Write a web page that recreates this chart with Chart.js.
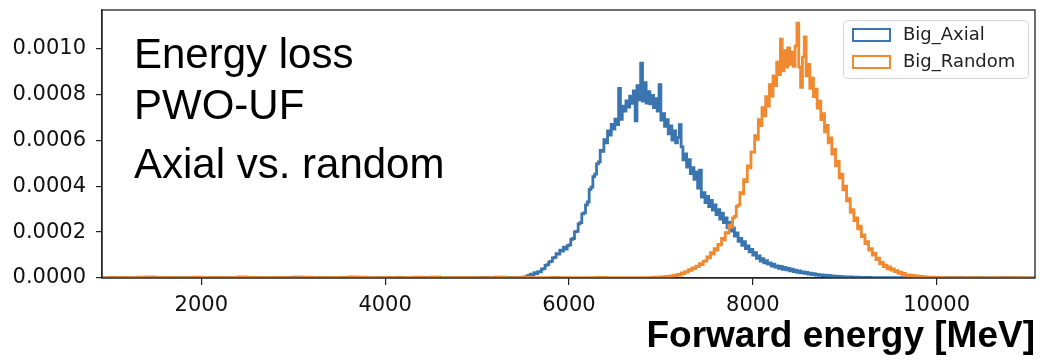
<!DOCTYPE html>
<html lang="en">
<head>
  <meta charset="UTF-8" />
  <title>Energy loss - PWO-UF</title>
  <style>
    * { margin: 0; padding: 0; box-sizing: border-box; }
    body { background: #fff; width: 1040px; height: 360px; overflow: hidden; }
    .wrap { position: relative; width: 1040px; height: 360px; }
  </style>
</head>
<body>
  <div class="wrap"><canvas id="chartEnergy" width="1040" height="360"></canvas></div>

  <script src="https://cdn.jsdelivr.net/npm/chart.js"></script>
  <script>
    // histogram heights in units of 1e-6 per MeV
    const UNIT = 1e-6;
    const fineWidth = 20;
    const coarseWidth = 100;

    // Big_Axial
    const axialLowStart = 900;
    const axialLow = [
      2, 0, 3, 1, 0, 2, 4, 1, 0, 2, 1, 3, 0, 2, 1, 0, 3, 2, 1, 0,
      2, 1, 4, 0, 1, 2, 0, 3, 1, 2, 0, 2, 1, 3, 0, 1, 2, 4, 1, 0,
      2, 1, 3, 2, 4, 3
    ];
    const axialStart = 5500;
    const axialValues = [
      2, 4, 3, 9, 11, 17, 14, 23, 19, 28,
      27, 39, 41, 55, 58, 70, 72, 88, 90, 106,
      104, 121, 117, 134, 126, 141, 144, 168, 172, 201,
      203, 236, 241, 279, 284, 318, 331, 386, 396, 441,
      452, 497, 506, 556, 551, 602, 589, 640, 622, 669,
      648, 692, 668, 826, 691, 748, 727, 771, 744, 792,
      761, 815, 684, 838, 776, 936, 770, 851, 762, 812,
      758, 795, 742, 781, 727, 842, 688, 716, 660, 690,
      628, 662, 601, 640, 588, 612, 668, 571, 515, 540,
      483, 515, 455, 480, 430, 462, 391, 470, 352, 372,
      328, 355, 311, 338, 296, 318, 276, 298, 256, 282,
      241, 262, 220, 242, 204, 218, 182, 196, 160, 172,
      142, 158, 128, 140, 114, 125, 100, 110, 86, 96,
      74, 84, 66, 76, 60, 66, 52, 60, 47, 53,
      42, 50, 38, 46, 36, 42, 31, 38, 28, 34,
      25, 31, 22, 27, 20, 24, 17, 21, 15, 19,
      13, 16, 11, 14, 10, 12, 8, 11, 7, 9,
      6, 8, 5, 7, 4, 6, 4, 5, 3, 5,
      3, 4, 2, 4, 2, 3, 2, 3, 1, 3,
      1, 2, 1, 2, 1, 2, 0, 2, 1, 1
    ];
    const axialHighStart = 9500;
    const axialHigh = [1, 2, 1, 0, 1, 1, 0, 2, 1, 0, 1, 0, 0, 1, 0, 0];

    // Big_Random
    const randomLowStart = 900;
    const randomLow = [
      0, 2, 1, 3, 0, 4, 2, 1, 3, 2, 1, 4, 2, 3, 1, 2, 5, 3, 1, 2,
      3, 1, 2, 4, 2, 1, 3, 2, 5, 4, 2, 1, 3, 2, 1, 4, 2, 3, 1, 2,
      3, 2, 1, 2, 3, 1, 2, 4, 1, 2, 3, 1, 2, 1, 2, 3, 1, 2, 1, 2
    ];
    const randomStart = 6900;
    const randomValues = [
      1, 3, 2, 4, 2, 5, 3, 6, 4, 7,
      5, 9, 7, 12, 10, 16, 13, 22, 19, 28,
      26, 36, 33, 44, 41, 52, 50, 62, 58, 72,
      74, 92, 88, 110, 104, 128, 122, 146, 144, 172,
      166, 198, 196, 230, 222, 262, 268, 312, 318, 372,
      366, 428, 420, 488, 480, 548, 548, 620, 604, 690,
      664, 742, 706, 790, 748, 842, 792, 880, 838, 940,
      886, 1040, 902, 990, 918, 1002, 930, 984, 922, 1010,
      1110, 918, 830, 962, 1050, 880, 930, 826, 870, 790,
      822, 740, 770, 690, 716, 636, 664, 588, 610, 540,
      560, 488, 508, 436, 452, 384, 400, 336, 346, 286,
      298, 250, 262, 214, 226, 180, 188, 150, 158, 122,
      128, 100, 108, 80, 86, 62, 68, 50, 56, 40,
      48, 34, 40, 28, 32, 20, 26, 16, 20, 12,
      14, 9, 12, 6, 10, 5, 8, 4, 7, 3,
      5, 3, 4, 2, 4, 1, 3, 2, 2, 1
    ];
    const randomHighStart = 10100;
    const randomHigh = [1, 2, 0, 1, 1, 0, 1, 0, 1, 0];

    const seriesLabels = ['Big_Axial', 'Big_Random'];
    const seriesColors = ['#3a75af', '#f0892f'];
    const xTicks = [2000, 4000, 6000, 8000, 10000];
    const yTicks = [0, 0.0002, 0.0004, 0.0006, 0.0008, 0.0010];
    const notes = ['Energy loss', 'PWO-UF', 'Axial vs. random'];
    const xTitle = 'Forward energy [MeV]';

    function bins(start, width, values) {
      return values.map((v, i) => ({ x: start + i * width, y: v * UNIT }));
    }

    function histogram(parts) {
      const pts = [];
      parts.forEach(p => pts.push(...bins(p[0], p[1], p[2])));
      const last = parts[parts.length - 1];
      pts.push({ x: last[0] + last[1] * last[2].length, y: pts[pts.length - 1].y });
      return pts;
    }

    const axialData = histogram([
      [axialLowStart, coarseWidth, axialLow],
      [axialStart, fineWidth, axialValues],
      [axialHighStart, coarseWidth, axialHigh]
    ]);
    const randomData = histogram([
      [randomLowStart, coarseWidth, randomLow],
      [randomStart, fineWidth, randomValues],
      [randomHighStart, coarseWidth, randomHigh]
    ]);

    const decor = {
      id: 'decor',
      afterDraw(chart) {
        const { ctx, chartArea: a } = chart;
        ctx.save();

        // frame
        ctx.strokeStyle = '#222';
        ctx.lineWidth = 1.3;
        ctx.strokeRect(a.left, a.top, a.right - a.left, a.bottom - a.top);

        // big annotation
        ctx.fillStyle = '#000';
        ctx.font = '42px "Liberation Sans", Arial, sans-serif';
        ctx.textBaseline = 'alphabetic';
        ctx.textAlign = 'left';
        const noteY = [68, 119, 178];
        notes.forEach((t, i) => ctx.fillText(t, 134, noteY[i]));

        // legend
        ctx.beginPath();
        ctx.roundRect(843.5, 20.5, 185, 58, 4);
        ctx.fillStyle = 'rgba(255,255,255,0.85)';
        ctx.fill();
        ctx.strokeStyle = '#d4d4d4';
        ctx.lineWidth = 1;
        ctx.stroke();

        ctx.font = '18px "DejaVu Sans", sans-serif';
        ctx.textBaseline = 'middle';
        seriesLabels.forEach((lab, i) => {
          const y = 35 + i * 27;
          ctx.strokeStyle = seriesColors[i];
          ctx.lineWidth = 2;
          ctx.strokeRect(853, y - 6, 37, 12);
          ctx.fillStyle = '#222';
          ctx.fillText(lab, 903, y);
        });

        ctx.restore();
      }
    };

    new Chart(document.getElementById('chartEnergy'), {
      type: 'line',
      data: {
        datasets: [
          {
            label: seriesLabels[0],
            data: axialData,
            borderColor: seriesColors[0],
            borderWidth: 2.8,
            pointRadius: 0,
            stepped: 'after',
            fill: false,
            order: 1
          },
          {
            label: seriesLabels[1],
            data: randomData,
            borderColor: seriesColors[1],
            borderWidth: 2.8,
            pointRadius: 0,
            stepped: 'after',
            fill: false,
            order: 0
          }
        ]
      },
      options: {
        responsive: false,
        animation: false,
        devicePixelRatio: 1,
        layout: { padding: { top: 10, right: 5, left: 0, bottom: 0 } },
        plugins: {
          legend: { display: false },
          tooltip: { enabled: false }
        },
        scales: {
          x: {
            type: 'linear',
            min: 920,
            max: 11070,
            afterBuildTicks: axis => { axis.ticks = xTicks.map(v => ({ value: v })); },
            afterFit: scale => {
              scale.height = 82;
              scale.paddingLeft = 0;
              scale.paddingRight = 0;
            },
            grid: { drawOnChartArea: false, drawTicks: true, tickLength: 7, color: '#222', lineWidth: 1.2 },
            border: { color: '#222', width: 1.3 },
            ticks: {
              color: '#111',
              padding: 8,
              maxRotation: 0,
              autoSkip: false,
              font: { family: '"DejaVu Sans", sans-serif', size: 21 },
              callback: v => String(v)
            },
            title: {
              display: true,
              text: xTitle,
              align: 'end',
              color: '#000',
              padding: { top: 0, bottom: 1.5 },
              font: { family: '"Liberation Sans", Arial, sans-serif', size: 37, weight: 'bold' }
            }
          },
          y: {
            min: 0,
            max: 0.001167,
            afterBuildTicks: axis => { axis.ticks = yTicks.map(v => ({ value: v })); },
            afterFit: scale => {
              scale.width = 102;
              scale.paddingTop = 0;
              scale.paddingBottom = 0;
            },
            grid: { drawOnChartArea: false, drawTicks: true, tickLength: 6, color: '#222', lineWidth: 1.2 },
            border: { color: '#222', width: 1.3 },
            ticks: {
              color: '#111',
              padding: 10,
              autoSkip: false,
              font: { family: '"DejaVu Sans", sans-serif', size: 21 },
              callback: v => Number(v).toFixed(4)
            }
          }
        }
      },
      plugins: [decor]
    });
  </script>
</body>
</html>
